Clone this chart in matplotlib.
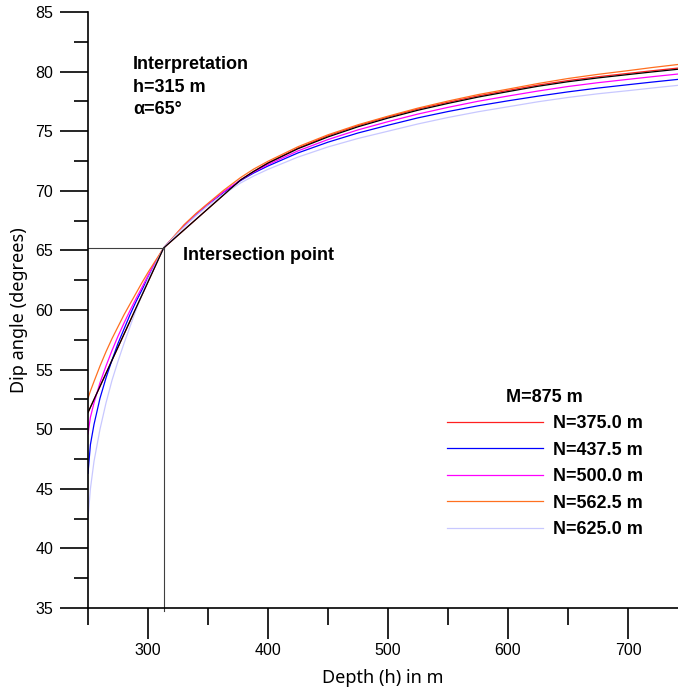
import matplotlib
matplotlib.use('Agg')
import matplotlib.pyplot as plt
from matplotlib.ticker import MultipleLocator

plt.rcParams['font.family'] = ['Liberation Sans', 'DejaVu Sans']

# === Données ===
depth = [250, 252, 255, 260, 265, 270, 275, 280, 285, 290, 295, 300, 306, 313,
         322, 330, 340, 350, 363, 377, 388, 400, 425, 450, 475, 500, 525, 550,
         575, 600, 625, 650, 675, 700, 720, 742]

orange = [52.6, 53.2, 54.0, 55.3, 56.5, 57.6, 58.6, 59.6, 60.5, 61.4, 62.3, 63.15, 64.1, 65.2,
          66.22, 67.15, 68.1, 68.95, 70.04, 71.1, 71.82, 72.48, 73.7, 74.7, 75.54, 76.26,
          76.94, 77.53, 78.07, 78.53, 79.0, 79.42, 79.77, 80.08, 80.34, 80.6]
magenta = [49.6, 51.0, 52.2, 53.9, 55.3, 56.6, 57.8, 58.9, 59.95, 60.95, 61.9, 62.9, 64.0, 65.2,
           66.2, 67.1, 68.05, 68.9, 69.92, 70.9, 71.57, 72.2, 73.35, 74.3, 75.11, 75.8,
           76.44, 77.0, 77.51, 77.95, 78.37, 78.75, 79.07, 79.35, 79.57, 79.8]
blue = [46.3, 48.7, 50.4, 52.6, 54.3, 55.8, 57.2, 58.4, 59.6, 60.7, 61.7, 62.7, 63.9, 65.2,
        66.18, 67.05, 68.0, 68.85, 69.87, 70.85, 71.49, 72.08, 73.18, 74.08, 74.85, 75.5,
        76.12, 76.65, 77.13, 77.55, 77.94, 78.3, 78.62, 78.9, 79.12, 79.35]
lavender = [42.5, 45.0, 47.3, 50.0, 52.2, 54.1, 55.7, 57.2, 58.6, 60.0, 61.3, 62.6, 63.8, 65.2,
            66.15, 66.95, 67.9, 68.75, 69.72, 70.65, 71.24, 71.8, 72.83, 73.68, 74.39, 75.0,
            75.61, 76.15, 76.63, 77.05, 77.47, 77.83, 78.14, 78.4, 78.62, 78.85]

# courbe noire (quasi droite au début) et rouge presque cachée dessous
depth_black = [250, 313, 377, 388, 400, 425, 450, 475, 500, 525, 550, 575, 600, 625, 650,
               675, 700, 720, 742]
black = [51.4, 65.2, 70.9, 71.62, 72.32, 73.53, 74.52, 75.37, 76.1, 76.76, 77.33, 77.86,
         78.32, 78.77, 79.15, 79.47, 79.75, 79.97, 80.2]
red = [51.4, 65.2, 70.9, 71.63, 72.35, 73.59, 74.62, 75.47, 76.2, 76.86, 77.43, 77.96,
       78.42, 78.87, 79.25, 79.57, 79.85, 80.07, 80.3]

labels = ["N=375.0 m", "N=437.5 m", "N=500.0 m", "N=562.5 m", "N=625.0 m"]
h_int, a_int = 313, 65.2

# === Graphique ===
fig = plt.figure(figsize=(6.78, 6.90), dpi=100)
ax = fig.add_axes([88 / 678, 82 / 690, 590 / 678, 596 / 690])

l_red, = ax.plot(depth_black, red, color='#ff2020', lw=0.9, label=labels[0])
l_blue, = ax.plot(depth, blue, color='#0000ff', lw=0.9, label=labels[1])
l_mag, = ax.plot(depth, magenta, color='#ff00ff', lw=0.9, label=labels[2])
l_or, = ax.plot(depth, orange, color='#ff7020', lw=0.9, label=labels[3])
l_lav, = ax.plot(depth, lavender, color='#c8c8ff', lw=0.9, label=labels[4])
ax.plot(depth_black, black, color='black', lw=0.9)

# lignes du point d'intersection
ax.plot([250, h_int], [a_int, a_int], color='#404040', lw=0.8)
ax.plot([h_int, h_int], [34.75, a_int], color='#404040', lw=0.8, clip_on=False)

ax.set_xlim(250, 250 + 590 / 1.2)
ax.set_ylim(35, 85)

for s in ['top', 'right']:
    ax.spines[s].set_visible(False)
for s in ['left', 'bottom']:
    ax.spines[s].set_linewidth(1.2)

ax.xaxis.set_major_locator(MultipleLocator(100))
ax.xaxis.set_minor_locator(MultipleLocator(50))
ax.yaxis.set_major_locator(MultipleLocator(5))
ax.yaxis.set_minor_locator(MultipleLocator(2.5))
ax.tick_params(axis='both', which='major', direction='out', width=1.2, labelsize=11.5)
ax.tick_params(axis='x', which='major', length=22, pad=3)
ax.tick_params(axis='x', which='minor', length=12, width=1.2)
ax.tick_params(axis='y', which='major', length=20, pad=5)
ax.tick_params(axis='y', which='minor', length=10, width=1.2)

ax.set_xlabel("Depth (h) in m", family=['Noto Sans', 'DejaVu Sans'], fontsize=13, labelpad=8)
ax.set_ylabel("Dip angle (degrees)", family=['Noto Sans', 'DejaVu Sans'], fontsize=13, labelpad=5)

ax.text(133 / 678, 1 - 56 / 690, "Interpretation\nh=315 m\n\u03b1=65\u00b0", transform=fig.transFigure,
        fontsize=13, fontweight='bold', va='top', ha='left', linespacing=1.43)
ax.text(183 / 678, 1 - 256 / 690, "Intersection point", transform=fig.transFigure,
        fontsize=13, fontweight='bold', va='center', ha='left')

leg = ax.legend(handles=[l_red, l_blue, l_mag, l_or, l_lav], loc='upper left',
                bbox_to_anchor=(447 / 678, 1 - 389 / 690), bbox_transform=fig.transFigure,
                frameon=False, title="M=875 m", borderpad=0, borderaxespad=0,
                handlelength=5.3, handletextpad=0.55, labelspacing=0.52,
                prop={'weight': 'bold', 'size': 13},
                title_fontproperties={'weight': 'bold', 'size': 13})

plt.savefig("out.png", dpi=100)
